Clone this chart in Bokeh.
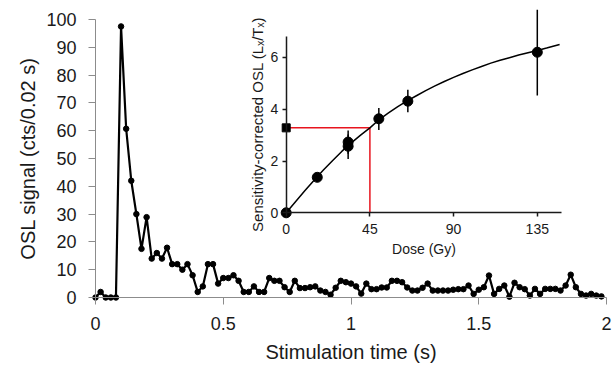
from bokeh.plotting import figure
from bokeh.models import Range1d, LinearAxis, FixedTicker
from bokeh.embed import file_html
from bokeh.resources import INLINE
import numpy as np

# ---------------- data: main OSL decay curve (cts per 0.02 s channel) ----------------
signal = [0, 2, 0, 0, 0, 97.5, 60.7, 42, 30, 17.5,
          28.9, 14, 16, 14, 17.9, 12, 12, 10, 12, 8,
          2, 4, 12, 12, 5, 7, 7, 8, 6, 2,
          2, 4, 2, 2, 7, 6, 6, 3.7, 2, 6,
          3.4, 3.4, 3.7, 4, 2.5, 2, 1, 3.5, 6, 5.5,
          5, 4, 1.4, 5, 3, 3, 3.6, 3.6, 6, 6,
          5.5, 3.6, 2.5, 2.5, 3.5, 5, 2.5, 2.5, 2.5, 2.5,
          2.8, 3, 3, 4.3, 1.3, 2.8, 3.7, 7.9, 1.3, 3.1,
          4.3, 0.3, 5.3, 3.7, 3, 0.7, 3.1, 1.3, 3.1, 3.1,
          3.1, 2.5, 4.3, 8.2, 3.7, 1.3, 0.7, 1.3, 0.7, 0.4]
channel_width = 0.02
time_s = np.round(np.arange(len(signal)) * channel_width, 2)

x_ticks = [0, 0.5, 1, 1.5, 2]
x_tick_labels = ["0", "0.5", "1", "1.5", "2"]
y_ticks = [0, 10, 20, 30, 40, 50, 60, 70, 80, 90, 100]

# ---------------- data: inset dose-response ----------------
dose = [0, 16.7, 33.3, 33.3, 49.8, 65.4, 135]
ratio = [0, 1.37, 2.73, 2.57, 3.63, 4.31, 6.2]
err_dose = [33.3, 33.3, 49.8, 65.4, 135]
err_lo = [2.28, 2.08, 3.2, 3.88, 4.53]
err_hi = [3.18, 3.02, 4.05, 4.75, 7.84]
fit_dose = [0, 5, 10, 15, 20, 25, 30, 35, 40, 45, 50, 55, 60, 65, 70, 75, 80, 85, 90,
            95, 100, 105, 110, 115, 120, 125, 130, 135, 140, 147]
fit_ratio = [0, 0.43, 0.85, 1.26, 1.65, 2.02, 2.38, 2.70, 3.0, 3.28, 3.6, 3.86, 4.1, 4.32,
             4.52, 4.72, 4.9, 5.07, 5.23, 5.38, 5.52, 5.65, 5.78, 5.89, 5.99, 6.09,
             6.18, 6.27, 6.36, 6.5]
nat_dose = 45
nat_ratio = 3.28
dose_ticks = [0, 45, 90, 135]
ratio_ticks = [0, 2, 4, 6]
dose_axis_end = 148
ratio_axis_end = 6.8

# ---------------- layout (pixels in the figure) ----------------
W, H = 612, 370

T0PX, T2PX = 95.0, 606.0
S0PX, S100PX = 297.0, 19.0
sx = (T2PX - T0PX) / 2.0
sy = (S0PX - S100PX) / 100.0

D0PX, DPX = 285.7, 1.86     # inset: dose 0 position, px per Gy
R0PX, RPX = 212.3, 25.9     # inset: ratio 0 position, px per unit

FONT = "Liberation Sans"

p = figure(width=W, height=H, output_backend="svg", toolbar_location=None,
           x_axis_type=None, y_axis_type=None,
           x_range=Range1d((0 - T0PX) / sx, (W - T0PX) / sx),
           y_range=Range1d((S0PX - H) / sy, S0PX / sy),
           min_border_left=0, min_border_right=0,
           min_border_top=0, min_border_bottom=0)
p.outline_line_color = None
p.background_fill_color = "white"
p.border_fill_color = "white"

p.extra_x_ranges = {"dose": Range1d((0 - D0PX) / DPX, (W - D0PX) / DPX)}
p.extra_y_ranges = {"ratio": Range1d((R0PX - H) / RPX, R0PX / RPX)}

# ---------------- main axes ----------------
xax = LinearAxis(fixed_location=0, bounds=(0, 2),
                 ticker=FixedTicker(ticks=x_ticks),
                 major_label_overrides={t: l for t, l in zip(x_ticks, x_tick_labels)},
                 axis_label="Stimulation time (s)")
yax = LinearAxis(fixed_location=0, bounds=(0, 100),
                 ticker=FixedTicker(ticks=y_ticks),
                 axis_label="OSL signal (cts/0.02 s)")
for ax in (xax, yax):
    ax.axis_line_color = "#8c8c8c"
    ax.axis_line_width = 1
    ax.major_tick_line_color = "#8c8c8c"
    ax.major_tick_in = 0
    ax.major_tick_out = 7
    ax.minor_tick_line_color = None
    ax.major_label_text_font = FONT
    ax.major_label_text_font_size = "18px"
    ax.major_label_text_color = "#1a1a1a"
    ax.axis_label_text_font = FONT
    ax.axis_label_text_font_size = "20px"
    ax.axis_label_text_font_style = "normal"
    ax.axis_label_text_color = "#1a1a1a"
xax.major_label_standoff = 12
xax.axis_label_standoff = 8
yax.major_label_standoff = 12
yax.axis_label_standoff = 4
p.add_layout(xax, "below")
p.add_layout(yax, "left")

# ---------------- main curve ----------------
p.line(time_s, signal, line_color="black", line_width=2.2)
p.scatter(time_s, signal, size=5.5, color="black")

# ---------------- inset axes ----------------
ixax = LinearAxis(x_range_name="dose", y_range_name="ratio", fixed_location=0,
                  bounds=(0, dose_axis_end), ticker=FixedTicker(ticks=dose_ticks),
                  axis_label="Dose (Gy)")
iyax = LinearAxis(x_range_name="dose", y_range_name="ratio", fixed_location=0,
                  bounds=(0, ratio_axis_end), ticker=FixedTicker(ticks=ratio_ticks),
                  axis_label="Sensitivity-corrected OSL (L\u2093/T\u2093)")
for ax in (ixax, iyax):
    ax.axis_line_color = "#1a1a1a"
    ax.axis_line_width = 1.5
    ax.major_tick_line_color = "#1a1a1a"
    ax.major_tick_line_width = 1.5
    ax.major_tick_in = 0
    ax.major_tick_out = 4
    ax.minor_tick_line_color = None
    ax.major_label_text_font = FONT
    ax.major_label_text_font_size = "14px"
    ax.major_label_text_color = "#1a1a1a"
    ax.axis_label_text_font = FONT
    ax.axis_label_text_font_size = "14px"
    ax.axis_label_text_font_style = "normal"
    ax.axis_label_text_color = "#1a1a1a"
iyax.axis_label_text_font_size = "15px"
ixax.major_label_standoff = 7
ixax.axis_label_standoff = 4
iyax.major_label_standoff = 4
iyax.axis_label_standoff = 2
p.add_layout(ixax, "below")
p.add_layout(iyax, "left")

# ---------------- inset content ----------------
p.line([0, nat_dose, nat_dose], [nat_ratio, nat_ratio, 0],
       x_range_name="dose", y_range_name="ratio", line_color="#e8141e", line_width=1.5)
p.line(fit_dose, fit_ratio, x_range_name="dose", y_range_name="ratio",
       line_color="black", line_width=1.5)
p.segment(err_dose, err_lo, err_dose, err_hi, x_range_name="dose", y_range_name="ratio",
          line_color="black", line_width=1.5)
p.scatter(dose, ratio, x_range_name="dose", y_range_name="ratio",
          size=10, color="black")
p.scatter([0], [nat_ratio], x_range_name="dose", y_range_name="ratio",
          marker="square", size=8, color="black")

open("out.html", "w").write(file_html(p, INLINE))
